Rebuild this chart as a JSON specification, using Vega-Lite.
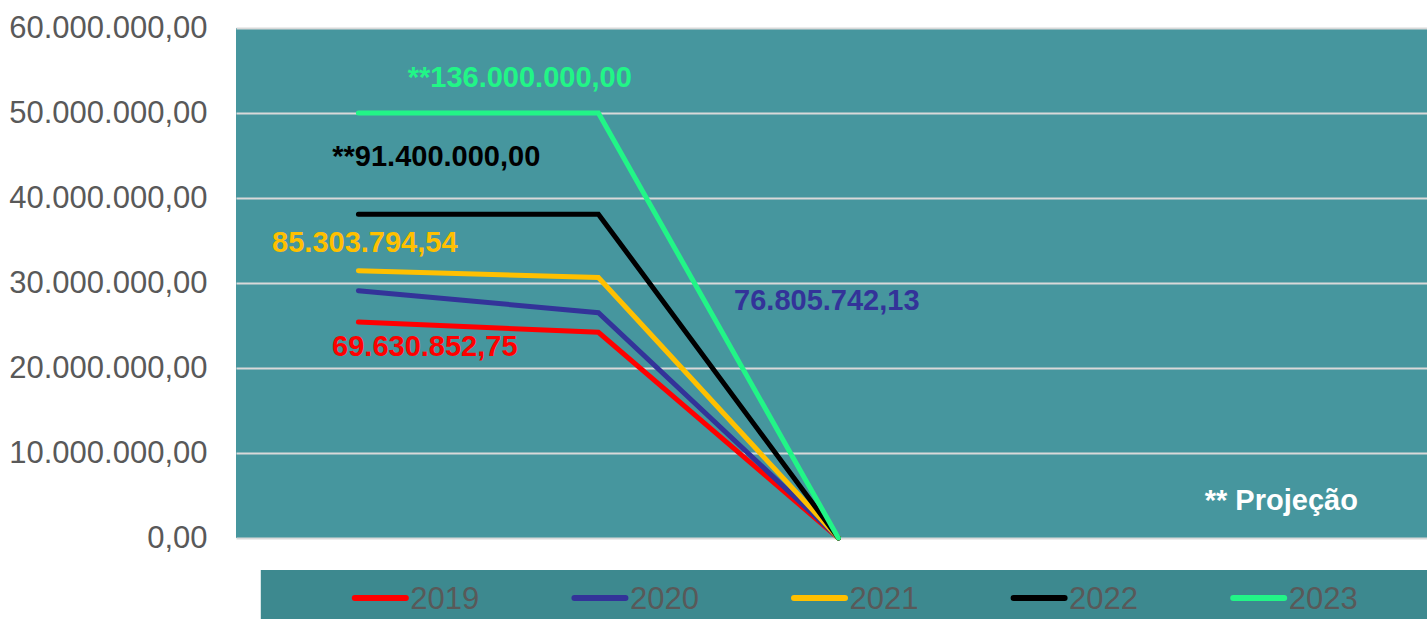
{
  "$schema": "https://vega.github.io/schema/vega-lite/v6.json",
  "background": "#FFFFFF",
  "padding": {"left": 8, "top": 12, "right": 0, "bottom": 0},
  "config": {
    "locale": {"number": {"decimal": ",", "thousands": ".", "grouping": [3], "currency": ["R$ ", ""]}},
    "font": "Liberation Sans",
    "view": {"stroke": null}
  },
  "datasets": {
    "linhas": [
      {"ano": "2019", "periodo": 1, "valor": 25400000},
      {"ano": "2019", "periodo": 2, "valor": 24200000},
      {"ano": "2019", "periodo": 3, "valor": 0},
      {"ano": "2020", "periodo": 1, "valor": 29100000},
      {"ano": "2020", "periodo": 2, "valor": 26500000},
      {"ano": "2020", "periodo": 3, "valor": 0},
      {"ano": "2021", "periodo": 1, "valor": 31450000},
      {"ano": "2021", "periodo": 2, "valor": 30650000},
      {"ano": "2021", "periodo": 3, "valor": 0},
      {"ano": "2022", "periodo": 1, "valor": 38100000},
      {"ano": "2022", "periodo": 2, "valor": 38100000},
      {"ano": "2022", "periodo": 3, "valor": 0},
      {"ano": "2023", "periodo": 1, "valor": 50000000},
      {"ano": "2023", "periodo": 2, "valor": 50000000},
      {"ano": "2023", "periodo": 3, "valor": 0}
    ],
    "rotulos": [
      {"ano": "2023", "texto": "**136.000.000,00", "periodo": 1.6725, "valor": 54070000},
      {"ano": "2022", "texto": "**91.400.000,00", "periodo": 1.3246, "valor": 44860000},
      {"ano": "2021", "texto": "85.303.794,54", "periodo": 1.0267, "valor": 34660000},
      {"ano": "2019", "texto": "69.630.852,75", "periodo": 1.2767, "valor": 22510000},
      {"ano": "2020", "texto": "76.805.742,13", "periodo": 2.9517, "valor": 27920000},
      {"ano": "nota", "texto": "** Projeção", "periodo": 4.8454, "valor": 4390000}
    ],
    "anos": [
      {"ano": "2019"},
      {"ano": "2020"},
      {"ano": "2021"},
      {"ano": "2022"},
      {"ano": "2023"}
    ]
  },
  "spacing": 32,
  "bounds": "flush",
  "vconcat": [
    {
      "width": 1191,
      "height": 510,
      "view": {"fill": "#46969E", "stroke": null},
      "layer": [
        {
          "data": {"name": "linhas"},
          "mark": {"type": "line", "strokeWidth": 5, "strokeCap": "round"},
          "encoding": {
            "x": {"field": "periodo", "type": "quantitative", "scale": {"domain": [0.49, 5.4525], "nice": false, "zero": false}, "axis": null},
            "y": {
              "field": "valor", "type": "quantitative",
              "scale": {"domain": [0, 60000000], "nice": false, "zero": true},
              "axis": {
                "values": [0, 10000000, 20000000, 30000000, 40000000, 50000000, 60000000],
                "format": ",.2f",
                "labelFont": "Liberation Sans",
                "labelFontSize": 31,
                "labelColor": "#595959",
                "labelLimit": 400,
                "ticks": false,
                "tickSize": 0,
                "domain": false,
                "labelPadding": 29,
                "gridColor": "#D9D9D9",
                "gridWidth": 2,
                "title": null
              }
            },
            "color": {
              "field": "ano", "type": "nominal",
              "scale": {"domain": ["2019", "2020", "2021", "2022", "2023", "nota"], "range": ["#FF0000", "#333399", "#FFC000", "#000000", "#22F587", "#FFFFFF"]},
              "legend": null
            }
          }
        },
        {
          "data": {"name": "rotulos"},
          "mark": {"type": "text", "font": "Liberation Sans", "fontWeight": "bold", "fontSize": 29, "align": "center", "baseline": "middle"},
          "encoding": {
            "x": {"field": "periodo", "type": "quantitative"},
            "y": {"field": "valor", "type": "quantitative"},
            "text": {"field": "texto", "type": "nominal"},
            "color": {"field": "ano", "type": "nominal", "legend": null}
          }
        }
      ]
    },
    {
      "width": 1191,
      "height": 49,
      "view": {"stroke": null},
      "layer": [
        {
          "data": {"values": [{"faixa": "legenda"}]},
          "mark": {"type": "rect", "color": "#3D898F"},
          "encoding": {
            "x": {"datum": 0.5933, "type": "quantitative", "scale": {"domain": [0.49, 5.4525], "nice": false, "zero": false}, "axis": null},
            "x2": {"datum": 5.4525}
          }
        },
        {
          "data": {"name": "anos"},
          "mark": {"type": "point", "shape": "stroke", "size": 2601, "strokeWidth": 6, "strokeCap": "round", "filled": false, "opacity": 1, "xOffset": -30, "yOffset": 3.5},
          "encoding": {
            "x": {"field": "ano", "type": "ordinal", "scale": {"type": "point", "padding": 0.7118, "align": 0.5576}, "axis": null},
            "color": {
              "field": "ano", "type": "nominal",
              "scale": {"domain": ["2019", "2020", "2021", "2022", "2023", "nota"], "range": ["#FF0000", "#333399", "#FFC000", "#000000", "#22F587", "#FFFFFF"]},
              "legend": null
            }
          }
        },
        {
          "data": {"name": "anos"},
          "mark": {"type": "text", "font": "Liberation Sans", "fontSize": 31, "color": "#595959", "align": "left", "baseline": "middle", "dy": 5.5},
          "encoding": {
            "x": {"field": "ano", "type": "ordinal", "scale": {"type": "point", "padding": 0.7118, "align": 0.5576}, "axis": null},
            "text": {"field": "ano", "type": "nominal"}
          }
        }
      ],
      "resolve": {"scale": {"x": "independent"}}
    }
  ]
}
